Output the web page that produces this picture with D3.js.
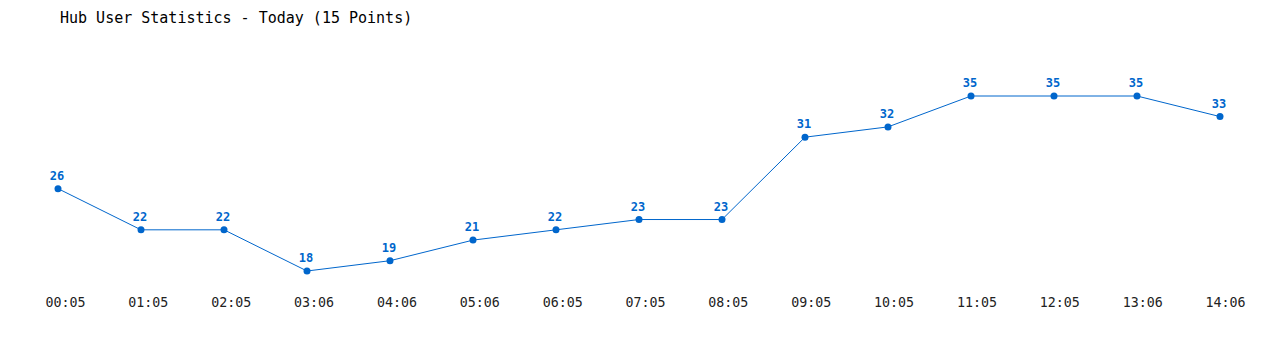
<!DOCTYPE html>
<html>
<head>
<meta charset="utf-8">
<script src="https://cdn.jsdelivr.net/npm/d3@7"></script>
<style>
  body { margin: 0; background: #fff; }
  svg text { font-family: "DejaVu Sans Mono", "Liberation Mono", monospace; }
</style>
</head>
<body>
<svg class="chart"></svg>
<script>
var times = ['00:05','01:05','02:05','03:06','04:06','05:06','06:05','07:05','08:05','09:05','10:05','11:05','12:05','13:06','14:06'];
var users = [26, 22, 22, 18, 19, 21, 22, 23, 23, 31, 32, 35, 35, 35, 33];

var width = 1280, height = 350;
var blue = '#0066cc';

var svg = d3.select('.chart')
  .attr('width', width)
  .attr('height', height);

svg.append('text')
  .attr('x', 60)
  .attr('y', 23)
  .attr('font-size', 15)
  .attr('fill', '#000')
  .text('Hub User Statistics - Today (15 Points)');

var x = d3.scalePoint()
  .domain(times)
  .range([58, 1220]);

// labels sit a touch right of the points
var xLabel = d3.scalePoint()
  .domain(times)
  .range([65, 1225]);

var y = d3.scaleLinear()
  .domain([18, 35])
  .range([271, 96]);

var xAxis = d3.axisBottom(xLabel).tickSize(0).tickPadding(0);
var gx = svg.append('g')
  .attr('transform', 'translate(0,298)')
  .call(xAxis);
gx.select('.domain').remove();
gx.selectAll('text')
  .attr('font-size', 13.3)
  .attr('fill', '#222')
  .attr('dy', '0.71em');

var line = d3.line()
  .x(function(d, i) { return x(times[i]); })
  .y(function(d) { return y(d); });

svg.append('path')
  .datum(users)
  .attr('d', line)
  .attr('fill', 'none')
  .attr('stroke', blue)
  .attr('stroke-width', 1);

svg.selectAll('circle.pt')
  .data(users)
  .enter()
  .append('circle')
  .attr('class', 'pt')
  .attr('cx', function(d, i) { return x(times[i]); })
  .attr('cy', function(d) { return y(d); })
  .attr('r', 3.5)
  .attr('fill', blue);

svg.selectAll('text.val')
  .data(users)
  .enter()
  .append('text')
  .attr('class', 'val')
  .attr('x', function(d, i) { return x(times[i]) - 1; })
  .attr('y', function(d) { return y(d) - 9; })
  .attr('text-anchor', 'middle')
  .attr('font-size', 12)
  .attr('font-weight', 'bold')
  .attr('fill', blue)
  .text(function(d) { return d; });
</script>
</body>
</html>
